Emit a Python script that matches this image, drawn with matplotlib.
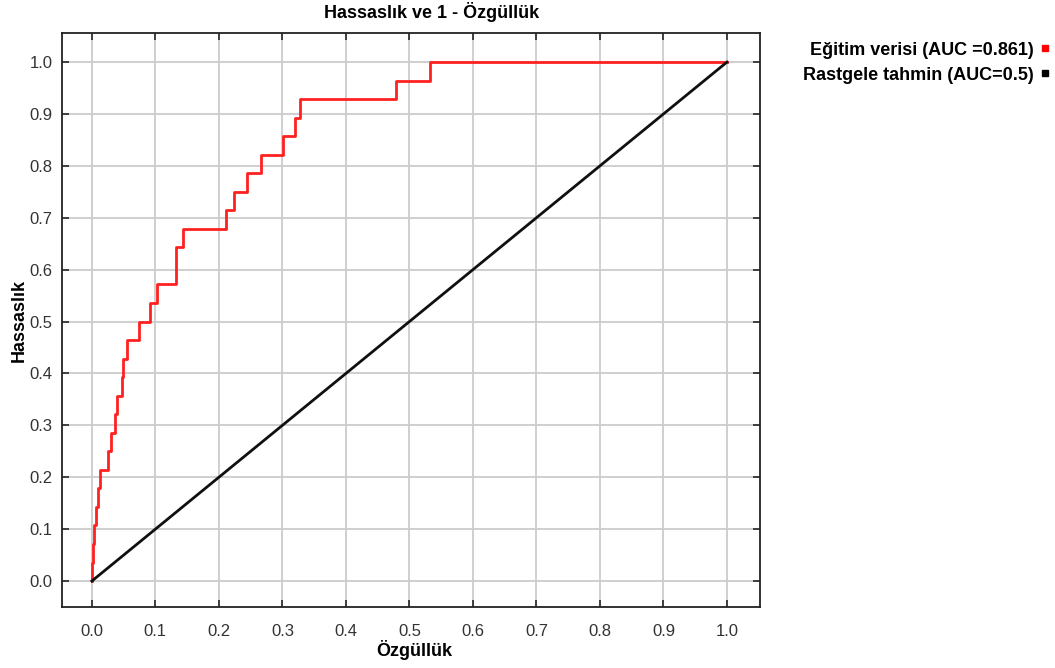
#ROC curve of the training data vs the random guess line
import numpy as np
import matplotlib.pyplot as plt
from matplotlib.lines import Line2D

plt.rcParams['font.family'] = ['Liberation Sans', 'DejaVu Sans']

# false positive rate where each step up happens, and the tpr reached (in 1/28 units)
fpr_steps = [0.0, 0.0, 0.002, 0.003, 0.006, 0.009, 0.013, 0.025, 0.030, 0.037,
             0.040, 0.047, 0.049, 0.056, 0.075, 0.091, 0.103, 0.132, 0.144,
             0.212, 0.224, 0.245, 0.266, 0.301, 0.320, 0.328, 0.479, 0.533, 1.0]
tpr_counts = [0, 1, 2, 3, 4, 5, 6, 7, 8, 9,
              10, 11, 12, 13, 14, 15, 16, 18, 19,
              20, 21, 22, 23, 24, 25, 26, 27, 28, 28]
n_pos = 28
rand_x = [0.0, 1.0]
rand_y = [0.0, 1.0]
labels = ['Eğitim verisi (AUC =0.861)', 'Rastgele tahmin (AUC=0.5)']

tpr = np.array(tpr_counts) / n_pos

fig = plt.figure(figsize=(10.55, 6.68), dpi=100)
ax = fig.add_axes([62/1055, 61/668, (760-62)/1055, (607-33)/668])

ax.plot(fpr_steps, tpr, drawstyle='steps-post', color='#ff2020', lw=2.0, zorder=3)
ax.plot(rand_x, rand_y, color='#101010', lw=2.0, zorder=3)

ax.set_xlim(-0.047, 1.052)
ax.set_ylim(-0.05, 1.056)
ax.set_xticks(np.arange(0, 1.01, 0.1))
ax.set_yticks(np.arange(0, 1.01, 0.1))
ax.set_xticklabels([f'{v:.1f}' for v in np.arange(0, 1.01, 0.1)])
ax.set_yticklabels([f'{v:.1f}' for v in np.arange(0, 1.01, 0.1)])
ax.grid(True, color='#cccccc', lw=1.3)
ax.set_axisbelow(True)
ax.tick_params(direction='in', length=5, width=1.3, top=True, right=True,
               labelsize=12, colors='#333333', pad=7)
ax.tick_params(axis='x', pad=12)
for s in ax.spines.values():
    s.set_linewidth(1.3)
    s.set_color('#222222')

# title sits a bit right of the axes centre in the original
ax.set_title('Hassaslık ve 1 - Özgüllük', fontsize=13, fontweight='bold', pad=11, x=0.53)
ax.set_xlabel('Özgüllük', fontsize=13, fontweight='bold', labelpad=1, x=0.505)
ax.set_ylabel('Hassaslık', fontsize=13, fontweight='bold', labelpad=1)

handles = [Line2D([], [], ls='none', marker='s', ms=5, color='#ff0000'),
           Line2D([], [], ls='none', marker='s', ms=5, color='#000000')]
fig.legend(handles, labels, loc='upper right', bbox_to_anchor=(1.011, 0.962),
           markerfirst=False, frameon=False, handlelength=0.6, handletextpad=0.3,
           labelspacing=0.45, prop={'weight': 'bold', 'size': 13})

fig.savefig('out.png', dpi=100)
